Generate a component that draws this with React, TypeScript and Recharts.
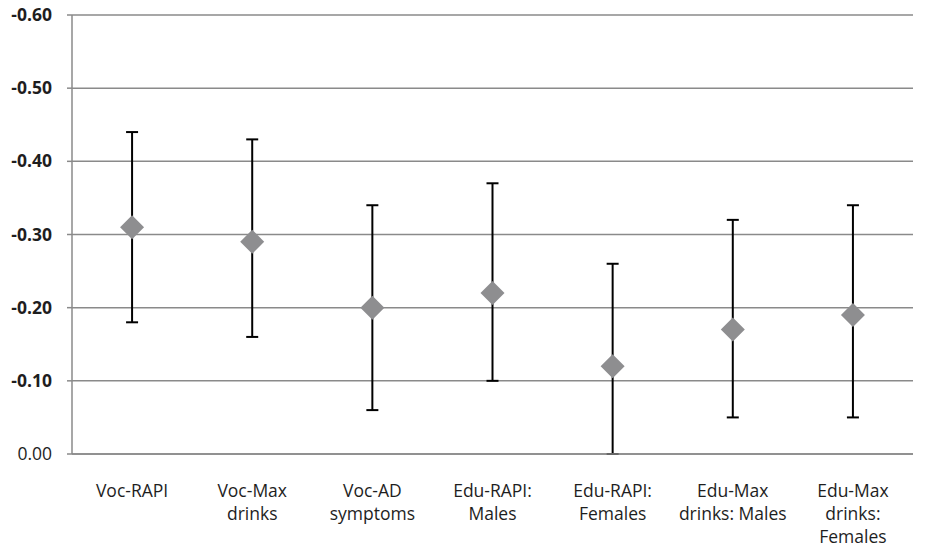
import { CartesianGrid, ErrorBar, Scatter, ScatterChart, XAxis, YAxis } from "recharts"

const categories = [
  "Voc-RAPI",
  "Voc-Max\ndrinks",
  "Voc-AD\nsymptoms",
  "Edu-RAPI:\nMales",
  "Edu-RAPI:\nFemales",
  "Edu-Max\ndrinks: Males",
  "Edu-Max\ndrinks:\nFemales",
]
const estimates = [-0.31, -0.29, -0.2, -0.22, -0.12, -0.17, -0.19]
// confidence interval ends: near zero and far from zero
const ciNear = [-0.18, -0.16, -0.06, -0.1, 0.0, -0.05, -0.05]
const ciFar = [-0.44, -0.43, -0.34, -0.37, -0.26, -0.32, -0.34]
const yTicks = [0, -0.1, -0.2, -0.3, -0.4, -0.5, -0.6]

const data = categories.map((name, i) => ({
  name,
  value: estimates[i],
  // [below, above] distances from the estimate
  err: [estimates[i] - ciFar[i], ciNear[i] - estimates[i]],
}))

const FONT = "'Open Sans', 'Noto Sans', sans-serif"

const Diamond = ({ cx, cy }: any) => {
  const r = 12
  return (
    <polygon
      points={`${cx},${cy - r} ${cx + r},${cy} ${cx},${cy + r} ${cx - r},${cy}`}
      fill="#8e8e90"
    />
  )
}

const CategoryTick = ({ x, y, payload }: any) => {
  const lines = String(payload.value).split("\n")
  return (
    <text x={x} y={y} textAnchor="middle" fontFamily={FONT} fontSize={17.5} fill="#1e1e1e">
      {lines.map((line, i) => (
        <tspan key={i} x={x} y={y + 35 + i * 23}>
          {line}
        </tspan>
      ))}
    </text>
  )
}

const ValueTick = ({ x, y, payload }: any) => {
  const v = payload.value
  return (
    <text
      x={x}
      y={y + 6}
      textAnchor="end"
      fontFamily={FONT}
      fontSize={17.5}
      fontWeight={v === 0 ? 400 : 700}
      fill="#1e1e1e"
    >
      {Math.abs(v) < 1e-9 ? "0.00" : v.toFixed(2)}
    </text>
  )
}

export default function App() {
  return (
    <div style={{ position: "absolute", left: 0, top: 0, background: "#fff" }}>
      <ScatterChart
        width={927}
        height={548}
        data={data}
        margin={{ top: 15, right: 14, bottom: 64, left: 0 }}
      >
        <CartesianGrid vertical={false} stroke="#8a8a8a" strokeWidth={1.5} />
        <XAxis
          dataKey="name"
          type="category"
          allowDuplicatedCategory={false}
          axisLine={{ stroke: "#8a8a8a", strokeWidth: 1.5 }}
          tickLine={false}
          tick={<CategoryTick />}
          interval={0}
        />
        <YAxis
          dataKey="value"
          type="number"
          domain={[-0.6, 0]}
          ticks={yTicks}
          reversed
          width={72}
          axisLine={{ stroke: "#8a8a8a", strokeWidth: 1.5 }}
          tickLine={{ stroke: "#8a8a8a", strokeWidth: 1.5 }}
          tickSize={5}
          tickMargin={15}
          tick={<ValueTick />}
        />
        <Scatter dataKey="value" shape={<Diamond />} isAnimationActive={false}>
          <ErrorBar dataKey="err" direction="y" width={6} stroke="#000" strokeWidth={2} />
        </Scatter>
      </ScatterChart>
    </div>
  )
}
